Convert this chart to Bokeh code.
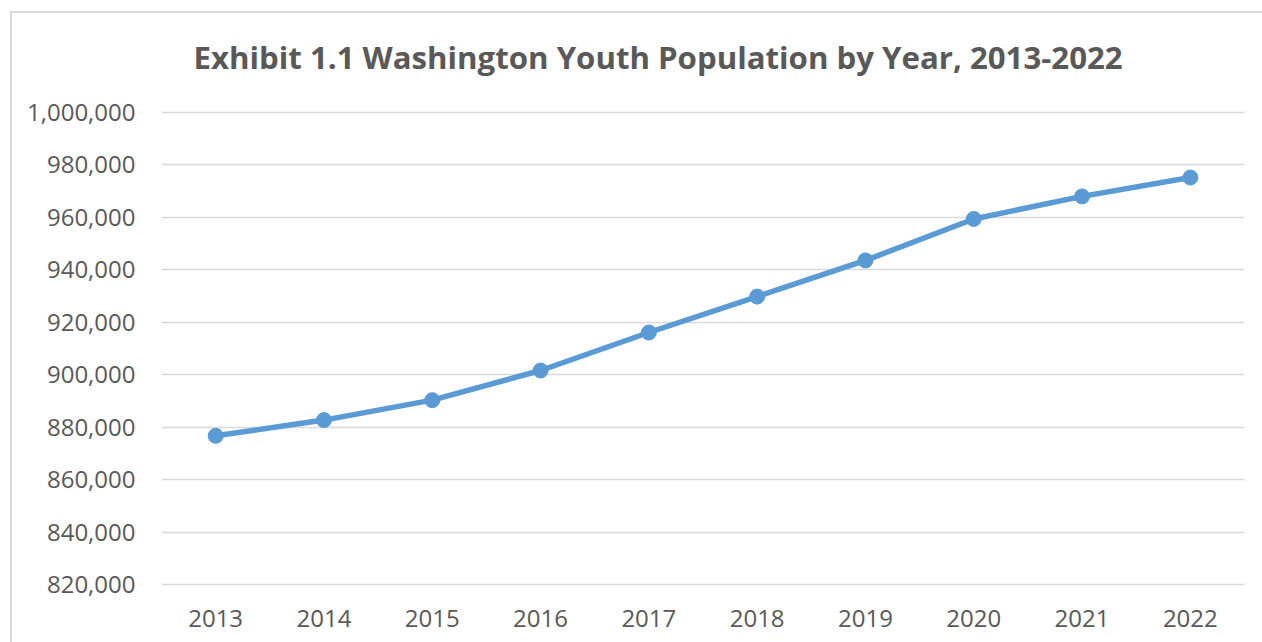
from bokeh.plotting import figure
from bokeh.models import FactorRange, Range1d, FixedTicker, NumeralTickFormatter
from bokeh.embed import file_html
from bokeh.resources import INLINE

years = ["2013", "2014", "2015", "2016", "2017", "2018", "2019", "2020", "2021", "2022"]
population = [876700, 882700, 890300, 901600, 916100, 929800, 943600, 959400, 968000, 975200]
y_ticks = [820000, 840000, 860000, 880000, 900000, 920000, 940000, 960000, 980000, 1000000]

TEXT = "#595959"
GRID = "#d9d9d9"
BLUE = "#5b9bd5"

p = figure(width=1262, height=642, x_range=FactorRange(*years, range_padding=0),
           y_range=Range1d(819240, 1000760),
           output_backend="svg", toolbar_location=None,
           min_border_left=161, min_border_right=18, min_border_top=109, min_border_bottom=56)

p.title.text = "Exhibit 1.1 Washington Youth Population by Year, 2013-2022"
p.title.align = "left"
p.title.text_font = "Open Sans"
p.title.text_font_size = "31.2px"
p.title.text_font_style = "bold"
p.title.text_color = TEXT
p.title.offset = 32
p.title.standoff = 66

# left and top edges of the chart box
p.border_fill_color = None
p.background_fill_color = None
p.styles = {"box-shadow": "inset 10px 11px 0 0 #ffffff, inset 12px 13px 0 0 #d9d9d9"}

p.outline_line_color = None
p.xgrid.grid_line_color = None
p.ygrid.grid_line_color = GRID
p.ygrid.grid_line_width = 1.5

p.yaxis.ticker = FixedTicker(ticks=y_ticks)
p.yaxis.formatter = NumeralTickFormatter(format="0,0")
p.yaxis.axis_line_color = None
p.yaxis.major_tick_line_color = None
p.yaxis.minor_tick_line_color = None
p.yaxis.major_label_standoff = 20
p.yaxis.major_label_text_font = "Open Sans"
p.yaxis.major_label_text_font_size = "24px"
p.yaxis.major_label_text_color = TEXT

p.xaxis.axis_line_color = None
p.xaxis.major_tick_line_color = None
p.xaxis.minor_tick_line_color = None
p.xaxis.major_label_standoff = 17
p.xaxis.major_label_text_font = "Open Sans"
p.xaxis.major_label_text_font_size = "24px"
p.xaxis.major_label_text_color = TEXT

p.line(years, population, line_color=BLUE, line_width=5.5)
p.scatter(years, population, size=15, fill_color=BLUE, line_color=BLUE)

open("out.html", "w").write(file_html(p, INLINE))
